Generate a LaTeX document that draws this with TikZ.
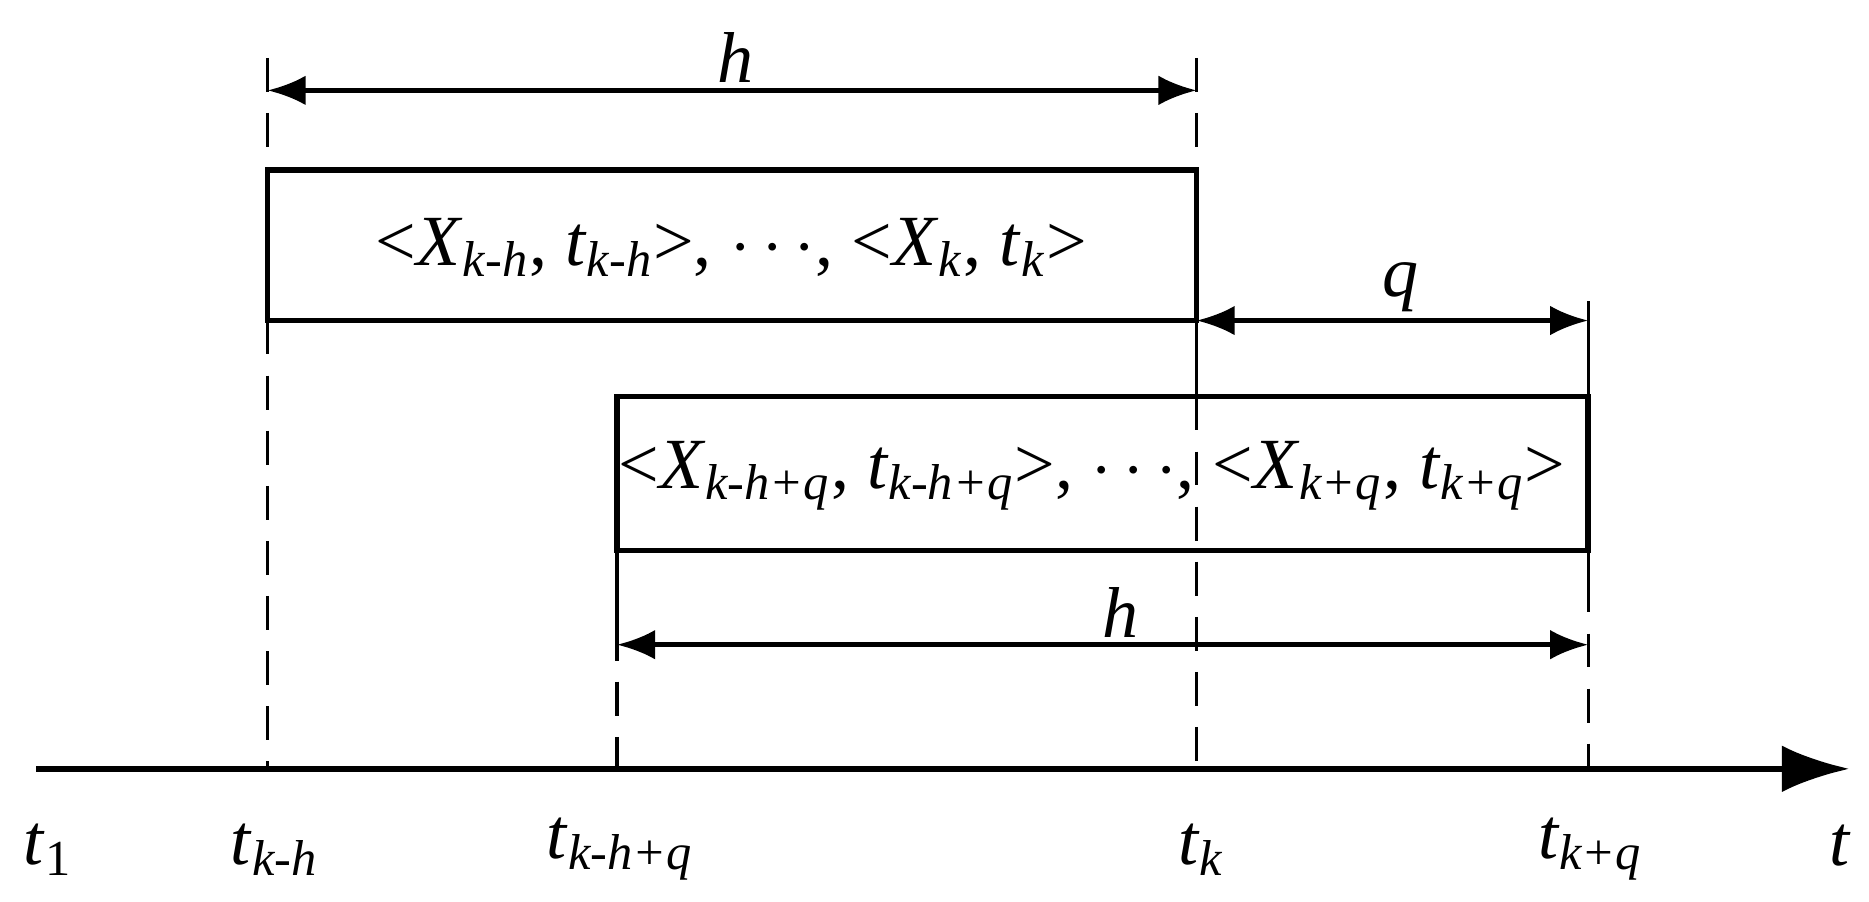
\documentclass[tikz,border=0pt]{standalone}
\usepackage{fontspec}
\setmainfont{Liberation Serif}[ItalicFont={Liberation Serif Italic},BoldFont={Liberation Serif Bold}]
\usetikzlibrary{arrows.meta}
\newcommand{\sbx}[1]{\textsubscript{\textit{#1}}}
\newcommand{\vr}[1]{\textit{#1}}
\tikzset{
  lbl/.style={font=\fontsize{17}{19}\selectfont, inner sep=0pt},
  dim/.style={line width=1.1pt, {Latex[length=9pt,width=7pt]}-{Latex[length=9pt,width=7pt]}},
  boxs/.style={draw, line width=1.3pt, inner sep=0pt, outer sep=0pt},
  dsh/.style={line width=0.8pt, dash pattern=on 8pt off 5pt},
  sol/.style={line width=0.8pt}
}
\begin{document}
\begin{tikzpicture}[x=0.01cm,y=-0.01cm]
\useasboundingbox (0,0) rectangle (1551,748.5);
% axis
\coordinate (a0) at (30,638);
\coordinate (a1) at (1535,638);
\draw[line width=1.5pt,-{Latex[length=16pt,width=11pt]}] (a0) -- (a1);
% boxes
\node[boxs, minimum width=771*0.01cm, minimum height=125*0.01cm, anchor=north west] (b1) at (222,141) {};
\node[boxs, minimum width=806*0.01cm, minimum height=128*0.01cm, anchor=north west] (b2) at (512,329) {};
\node[lbl] (t1) at (607,205) {<\vr{X}\sbx{k-h}, \vr{t}\sbx{k-h}>, $\cdots$, <\vr{X}\sbx{k}, \vr{t}\sbx{k}>};
\node[lbl] (t2) at (906,395) {<\vr{X}\sbx{k-h+q}, \vr{t}\sbx{k-h+q}>, $\cdots$, <\vr{X}\sbx{k+q}, \vr{t}\sbx{k+q}>};
% coordinates
\coordinate (p1t) at (222,48); \coordinate (p1a) at (222,75); \coordinate (p1b) at (222,638);
\coordinate (p4t) at (993,48); \coordinate (p4a) at (993,75); \coordinate (p4q) at (993,266); \coordinate (p4m) at (993,329); \coordinate (p4b) at (993,638);
\coordinate (p2t) at (512,457); \coordinate (p2s) at (512,520); \coordinate (p2a) at (512,535); \coordinate (p2b) at (512,638);
\coordinate (p3t) at (1318,250); \coordinate (p3q) at (1318,266); \coordinate (p3m) at (1318,329); \coordinate (p3u) at (1318,457); \coordinate (p3s) at (1318,480); \coordinate (p3a) at (1318,535); \coordinate (p3b) at (1318,638);
% verticals
\draw[dsh] (p1t) -- (b1.north west);
\draw[dsh] (b1.south west) -- (p1b);
\draw[dsh] (p4t) -- (b1.north east);
\draw[sol] (b1.south east) -- (p4m);
\draw[dsh] (p4m) -- (p4b);
\draw[sol] (p2t) -- (p2s);
\draw[dsh] (p2s) -- (p2b);
\draw[sol] (p3t) -- (p3m);
\draw[sol] (p3u) -- (p3s);
\draw[dsh] (p3s) -- (p3b);
% dimensions
\draw[dim] (p1a) -- (p4a);
\draw[dim] (p4q) -- (p3q);
\draw[dim] (p2a) -- (p3a);
\node[lbl] (h1) at (610,48) {\vr{h}};
\node[lbl] (q1) at (1162,238) {\vr{q}};
\node[lbl] (h2) at (930,508) {\vr{h}};
% axis labels
\node[lbl] (l1) at (40,705) {\vr{t}\textsubscript{1}};
\node[lbl] (l2) at (228,705) {\vr{t}\sbx{k-h}};
\node[lbl] (l3) at (515,705) {\vr{t}\sbx{k-h+q}};
\node[lbl] (l4) at (997,705) {\vr{t}\sbx{k}};
\node[lbl] (l5) at (1320,705) {\vr{t}\sbx{k+q}};
\node[lbl] (l6) at (1527,702) {\vr{t}};
\end{tikzpicture}
\end{document}
